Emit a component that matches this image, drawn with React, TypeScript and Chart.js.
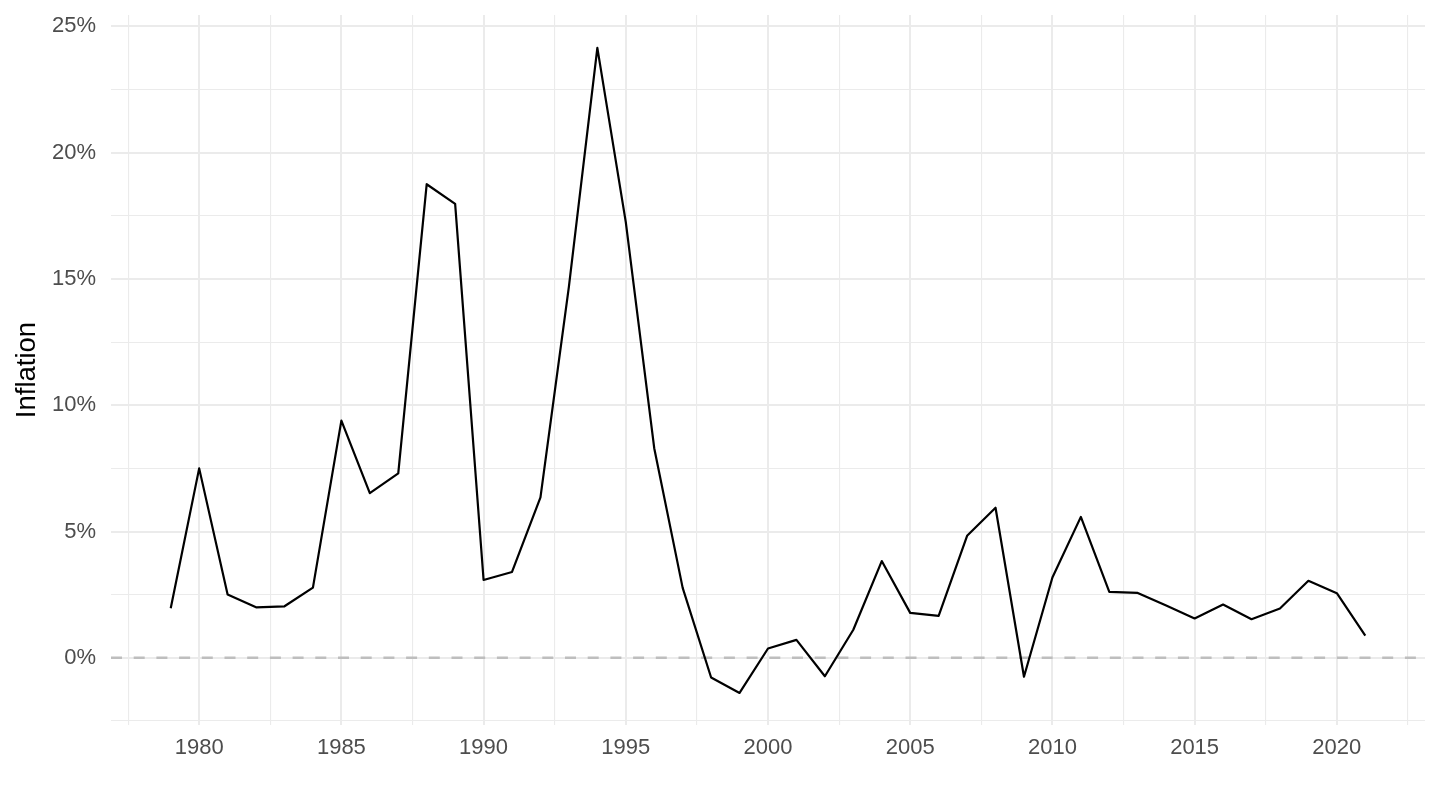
import React, { useEffect, useRef } from 'react';
import { Chart, registerables } from 'chart.js';

Chart.register(...registerables);

const years = [
  1979, 1980, 1981, 1982, 1983, 1984, 1985, 1986, 1987, 1988, 1989,
  1990, 1991, 1992, 1993, 1994, 1995, 1996, 1997, 1998, 1999,
  2000, 2001, 2002, 2003, 2004, 2005, 2006, 2007, 2008, 2009,
  2010, 2011, 2012, 2013, 2014, 2015, 2016, 2017, 2018, 2019,
  2020, 2021,
];

// annual inflation, %
const inflation = [
  1.96, 7.5, 2.51, 2.0, 2.04, 2.78, 9.39, 6.52, 7.3, 18.75, 17.97,
  3.08, 3.4, 6.35, 14.7, 24.15, 17.25, 8.3, 2.77, -0.78, -1.39,
  0.37, 0.71, -0.73, 1.11, 3.83, 1.78, 1.66, 4.83, 5.94, -0.75,
  3.18, 5.58, 2.61, 2.57, 2.07, 1.56, 2.11, 1.53, 1.95, 3.05,
  2.56, 0.88,
];

const xTicks = [
  1977.5, 1980, 1982.5, 1985, 1987.5, 1990, 1992.5, 1995, 1997.5, 2000,
  2002.5, 2005, 2007.5, 2010, 2012.5, 2015, 2017.5, 2020, 2022.5,
];
const yTicks = [-2.5, 0, 2.5, 5, 7.5, 10, 12.5, 15, 17.5, 20, 22.5, 25];

const GRID = '#EBEBEB';
const TICK_TEXT = '#4D4D4D';

// dashed reference line at 0%
const zeroLine = {
  id: 'zeroLine',
  beforeDatasetsDraw(chart: Chart) {
    const { ctx, chartArea, scales } = chart;
    const y = scales.y.getPixelForValue(0);
    ctx.save();
    ctx.strokeStyle = '#BEBEBE';
    ctx.lineWidth = 2.5;
    ctx.setLineDash([11, 11.7]);
    ctx.beginPath();
    ctx.moveTo(chartArea.left, y);
    ctx.lineTo(chartArea.right, y);
    ctx.stroke();
    ctx.restore();
  },
};

const isMajor = (v: number) => Math.abs(v % 5) < 1e-9;

const InflationChart: React.FC = () => {
  const canvasRef = useRef<HTMLCanvasElement | null>(null);
  const chartRef = useRef<Chart | null>(null);

  useEffect(() => {
    if (!canvasRef.current) return;
    const ctx = canvasRef.current.getContext('2d');
    if (!ctx) return;

    Chart.defaults.font.family = "'Liberation Sans', Arial, sans-serif";

    if (chartRef.current) chartRef.current.destroy();

    chartRef.current = new Chart(ctx, {
      type: 'line',
      data: {
        datasets: [
          {
            label: 'Inflation',
            data: years.map((yr, i) => ({ x: yr, y: inflation[i] })),
            borderColor: '#000000',
            borderWidth: 2.2,
            borderJoinStyle: 'round',
            pointRadius: 0,
            tension: 0,
            fill: false,
          },
        ],
      },
      options: {
        responsive: true,
        maintainAspectRatio: false,
        animation: false,
        layout: { padding: { top: 15, right: 15, left: 0, bottom: 0 } },
        plugins: {
          legend: { display: false },
          tooltip: { enabled: false },
        },
        scales: {
          x: {
            type: 'linear',
            min: 1976.9,
            max: 2023.1,
            afterBuildTicks: (axis: any) => {
              axis.ticks = xTicks.map((v) => ({ value: v }));
            },
            afterFit: (axis: any) => {
              axis.height = 85;
              axis.paddingLeft = 0;
              axis.paddingRight = 0;
            },
            ticks: {
              autoSkip: false,
              maxRotation: 0,
              padding: 10,
              color: TICK_TEXT,
              font: { size: 22 },
              callback: (v: any) => (isMajor(Number(v)) ? String(v) : ''),
            },
            grid: {
              drawTicks: false,
              color: GRID,
              lineWidth: (c: any) => (isMajor(c.tick.value) ? 2 : 1.1),
            },
            border: { display: false },
          },
          y: {
            min: -2.66,
            max: 25.45,
            afterBuildTicks: (axis: any) => {
              axis.ticks = yTicks.map((v) => ({ value: v }));
            },
            afterFit: (axis: any) => {
              axis.width = 111;
              axis.paddingTop = 0;
              axis.paddingBottom = 0;
            },
            ticks: {
              autoSkip: false,
              padding: 15,
              color: TICK_TEXT,
              font: { size: 22 },
              callback: (v: any) => (isMajor(Number(v)) ? `${v}%` : ''),
            },
            grid: {
              drawTicks: false,
              color: GRID,
              lineWidth: (c: any) => (isMajor(c.tick.value) ? 2 : 1.1),
            },
            border: { display: false },
            title: {
              display: true,
              text: 'Inflation',
              color: '#000000',
              font: { size: 27.5 },
              padding: { top: 11, bottom: 0 },
            },
          },
        },
      },
      plugins: [zeroLine],
    });

    return () => {
      if (chartRef.current) {
        chartRef.current.destroy();
        chartRef.current = null;
      }
    };
  }, []);

  return <canvas ref={canvasRef}></canvas>;
};

export default function App() {
  return (
    <div
      style={{
        position: 'absolute',
        left: 0,
        top: 0,
        width: 1440,
        height: 810,
        background: '#ffffff',
      }}
    >
      <InflationChart />
    </div>
  );
}
